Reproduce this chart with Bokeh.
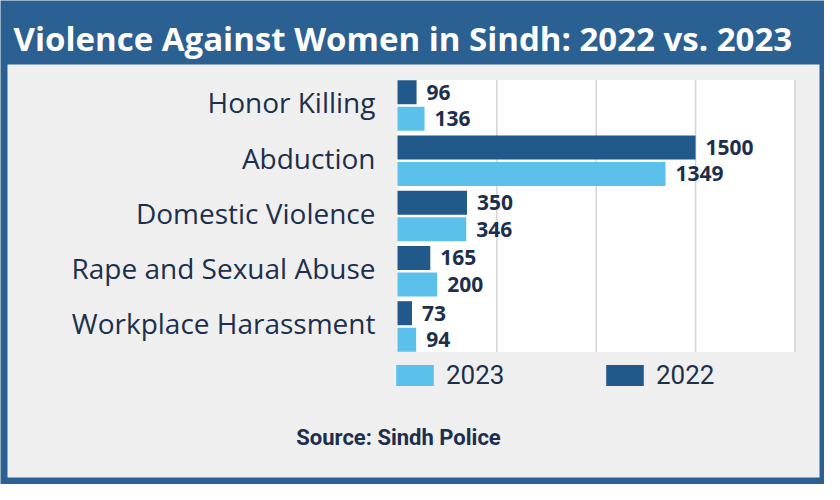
from bokeh.plotting import figure
from bokeh.models import (Range1d, BoxAnnotation, Label, Legend, LegendItem,
                          ColumnDataSource)
from bokeh.transform import dodge
from bokeh.core.properties import value
from bokeh.embed import file_html
from bokeh.resources import INLINE

# ---- data ----
categories = ["Honor Killing", "Abduction", "Domestic Violence",
              "Rape and Sexual Abuse", "Workplace Harassment"]
cases_2022 = [96, 1500, 350, 165, 73]
cases_2023 = [136, 1349, 346, 200, 94]
grid_ticks = [500, 1000, 1500, 2000]
title_text = "Violence Against Women in Sindh: 2022 vs. 2023"
source_text = "Source: Sindh Police"

# ---- style ----
BLUE = "#2b6092"
PANEL = "#efefef"
DARK = "#21598b"
LIGHT = "#5bc0ea"
NAVY = "#1d2f4c"
FONT = "Open Sans"

n = len(categories)
src = ColumnDataSource(dict(
    idx=list(range(n)),
    cat=categories,
    v2022=cases_2022,
    v2023=cases_2023,
    l2022=[str(v) for v in cases_2022],
    l2023=[str(v) for v in cases_2023],
    zero=[0] * n,
))

# frame covers the whole canvas; ranges place the plot area inside it
p = figure(
    width=824, height=484, min_border=0,
    x_range=Range1d(-1998, 2149), y_range=Range1d(6.86, -1.90),
    x_axis_location=None, y_axis_location=None,
    toolbar_location=None, output_backend="svg",
    border_fill_color=BLUE, background_fill_color=BLUE,
    outline_line_color=None,
)
p.grid.visible = False

# light-grey panel (canvas px) and white plot area (data x, category band y)
p.add_layout(BoxAnnotation(left=7, right=819, top=64, bottom=477,
                           left_units="canvas", right_units="canvas",
                           top_units="canvas", bottom_units="canvas",
                           fill_color=PANEL, fill_alpha=1, line_color=None,
                           level="underlay"))
band_top, band_bottom = -0.46, n - 1 + 0.46
p.add_layout(BoxAnnotation(left=0, right=max(grid_ticks),
                           top=band_top, bottom=band_bottom,
                           fill_color="white", fill_alpha=1, line_color=None,
                           level="underlay"))
p.segment(x0=grid_ticks, x1=grid_ticks, y0=[band_top] * len(grid_ticks),
          y1=[band_bottom] * len(grid_ticks), line_color="#d4d4d4", line_width=1.5)

off = 0.24
h = 0.435
r22 = p.hbar(y=dodge("idx", -off), right="v2022", left=0, height=h,
             source=src, fill_color=DARK, line_color=None)
r23 = p.hbar(y=dodge("idx", off), right="v2023", left=0, height=h,
             source=src, fill_color=LIGHT, line_color=None)

lab_kw = dict(x_offset=10, text_baseline="middle", text_align="left",
              text_font=value(FONT), text_font_style="bold",
              text_font_size="21px", text_color=NAVY, source=src)
p.text(x="v2022", y=dodge("idx", -off), text="l2022", **lab_kw)
p.text(x="v2023", y=dodge("idx", off), text="l2023", **lab_kw)

# category labels, right-aligned left of the plot area
p.text(x="zero", y="idx", text="cat", source=src, x_offset=-22, y_offset=-3,
       text_align="right", text_baseline="middle", text_font=value(FONT),
       text_font_size="28px", text_color=NAVY)

legend = Legend(items=[LegendItem(label="2023", renderers=[r23]),
                       LegendItem(label="2022", renderers=[r22])],
                location=(391, 94), orientation="horizontal",
                glyph_width=47, glyph_height=26, label_width=155,
                label_standoff=8, spacing=0, padding=0, margin=0,
                label_text_font="Roboto", label_text_font_size="26px",
                label_text_color=NAVY, label_text_baseline="middle",
                background_fill_alpha=0, border_line_color=None)
p.add_layout(legend)

p.add_layout(Label(x=13, y=38, x_units="canvas", y_units="canvas",
                   text=title_text, text_font=FONT, text_font_style="bold",
                   text_font_size="33px", text_color="white",
                   text_baseline="alphabetic", text_align="left"))
p.add_layout(Label(x=398, y=437, x_units="canvas", y_units="canvas",
                   text=source_text, text_font="Roboto", text_font_style="bold",
                   text_font_size="22px", text_color=NAVY,
                   text_baseline="middle", text_align="center"))

open("out.html", "w").write(file_html(p, INLINE))
